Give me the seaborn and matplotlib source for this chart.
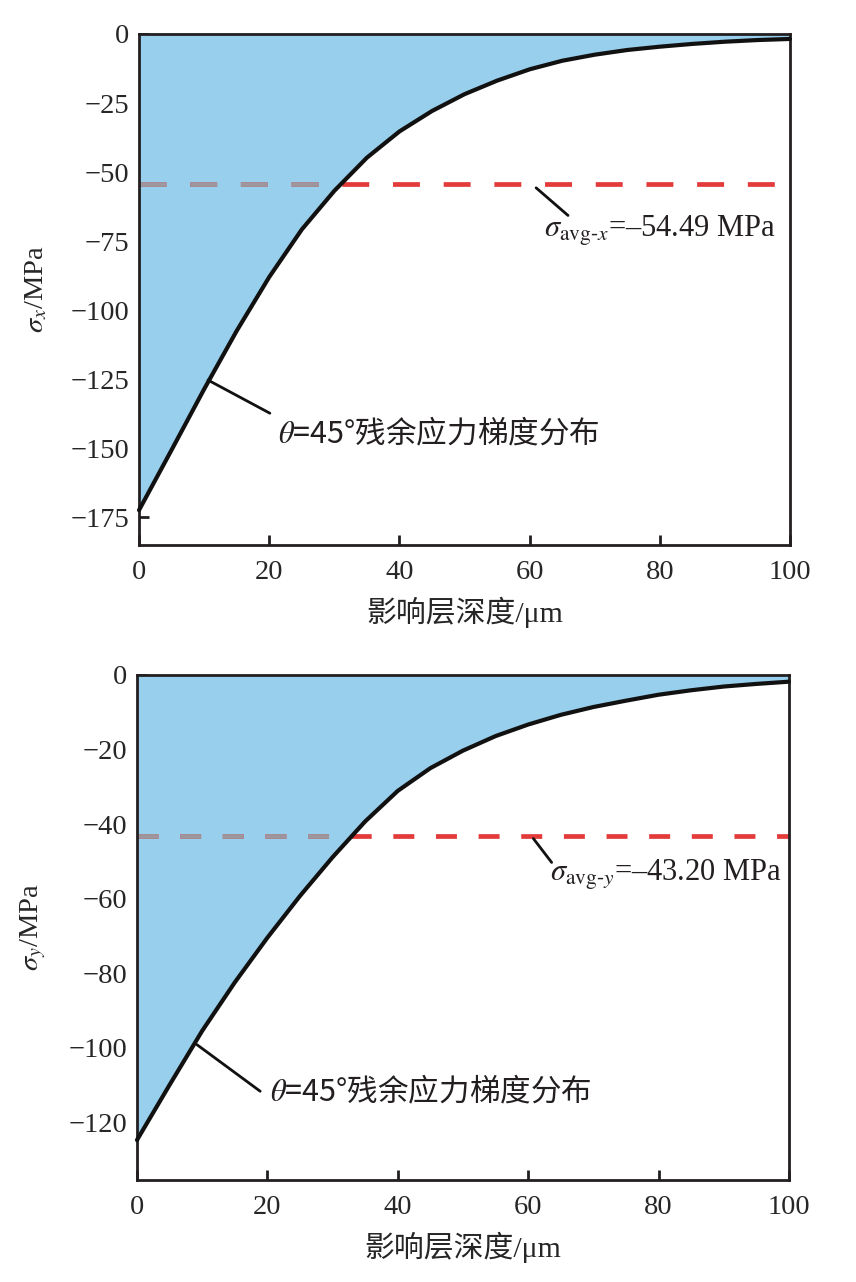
import numpy as np
import pandas as pd
import matplotlib
matplotlib.use("Agg")
import matplotlib.pyplot as plt
import seaborn as sns

# ---------------- data ----------------
depth = [0, 5, 10, 15, 20, 25, 30, 35, 40, 45, 50, 55, 60, 65, 70, 75, 80, 85, 90, 95, 100]
sigma_x = [-172.4, -150.6, -128.6, -107.5, -88.0, -70.8, -56.8, -44.8, -35.3, -27.9, -21.8,
           -16.9, -12.8, -9.7, -7.5, -5.8, -4.6, -3.6, -2.8, -2.2, -1.8]
sigma_y = [-124.8, -110.0, -95.5, -82.5, -70.5, -59.3, -48.9, -39.3, -31.1, -25.0, -20.3,
           -16.4, -13.3, -10.7, -8.6, -6.9, -5.3, -4.1, -3.1, -2.4, -1.8]
avg_x = -54.49
avg_y = -43.20
x_ticks = [0, 20, 40, 60, 80, 100]
yticks_x = [0, -25, -50, -75, -100, -125, -150, -175]
yticks_y = [0, -20, -40, -60, -80, -100, -120]
xlabel = "影响层深度/μm"
ylabel_x = r"$\sigma_x$/MPa"
ylabel_y = r"$\sigma_y$/MPa"
curve_label = r"$\theta$=45°残余应力梯度分布"
avg_label_x = r"$\sigma_{\mathrm{avg‐}x}$=–54.49 MPa"
avg_label_y = r"$\sigma_{\mathrm{avg‐}y}$=–43.20 MPa"

df = pd.DataFrame({"depth": depth, "sx": sigma_x, "sy": sigma_y})

# ---------------- style ----------------
sns.set_theme(style="ticks")
plt.rcParams["font.family"] = ["Liberation Serif", "Noto Sans CJK SC"]
plt.rcParams["mathtext.fontset"] = "stix"
plt.rcParams["lines.scale_dashes"] = False
plt.rcParams["axes.unicode_minus"] = True

FILL = "#98CFEC"
RED = "#E33A3A"
GRAY = "#9E969E"
SPINE = "#231F20"

fig = plt.figure(figsize=(8.56, 12.82), dpi=100)
ax1 = fig.add_axes([0.1624, 0.5749, 0.7605, 0.3986])
ax2 = fig.add_axes([0.1600, 0.0796, 0.7617, 0.3939])


def draw(ax, col, avg, ylim, yticks, ylabel, dashes, avg_label,
         lead1, txt1, lead2, txt2):
    poly = ax.fill_between(df["depth"], df[col], 0, color=FILL, lw=0, zorder=1)
    ax.axhline(avg, color=RED, lw=3.4, dashes=dashes, zorder=2)
    gl = ax.axhline(avg, color=GRAY, lw=3.4, dashes=dashes, zorder=2.1)
    gl.set_clip_path(poly.get_paths()[0], ax.transData)
    sns.lineplot(data=df, x="depth", y=col, ax=ax, color="#111111", lw=3.0,
                 zorder=3, clip_on=False)
    ax.set_xlim(0, 100)
    ax.set_ylim(*ylim)
    ax.set_xticks(x_ticks)
    ax.set_yticks(yticks)
    ax.tick_params(direction="in", length=7, width=2, color=SPINE,
                   labelsize=20.5, top=False, right=False)
    ax.tick_params(axis="x", pad=11)
    ax.tick_params(axis="y", pad=7)
    for s in ax.spines.values():
        s.set_linewidth(2)
        s.set_color(SPINE)
    ax.set_xlabel(xlabel, fontsize=21.5, labelpad=8)
    ax.set_ylabel(ylabel, fontsize=20.5, labelpad=15)
    # curve annotation
    ax.annotate("", xy=lead1[0], xytext=lead1[1],
                arrowprops=dict(arrowstyle="-", lw=2, color="#111111",
                                shrinkA=0, shrinkB=0))
    ax.text(txt1[0], txt1[1], curve_label, fontsize=22,
            family="Noto Sans CJK SC",
            ha="left", va="baseline", color="#231F20")
    # average annotation
    ax.annotate("", xy=lead2[0], xytext=lead2[1],
                arrowprops=dict(arrowstyle="-", lw=2, color="#111111",
                                shrinkA=0, shrinkB=0))
    ax.text(txt2[0], txt2[1], avg_label, fontsize=22,
            ha="left", va="baseline", color="#231F20")


draw(ax1, "sx", avg_x, (-185, 0), yticks_x, ylabel_x, (19.4, 17.1), avg_label_x,
     ((10.6, -125.3), (20.1, -137.3)), (21.4, -148.2),
     ((61.0, -55.7), (65.9, -65.7)), (62.2, -73.4))
draw(ax2, "sy", avg_y, (-135.5, 0), yticks_y, ylabel_y, (15.1, 15.6), avg_label_y,
     ((9.2, -99.2), (18.9, -111.7)), (20.4, -114.4),
     ((60.8, -43.9), (63.6, -50.3)), (63.3, -55.3))

fig.savefig("out.png", dpi=100)
